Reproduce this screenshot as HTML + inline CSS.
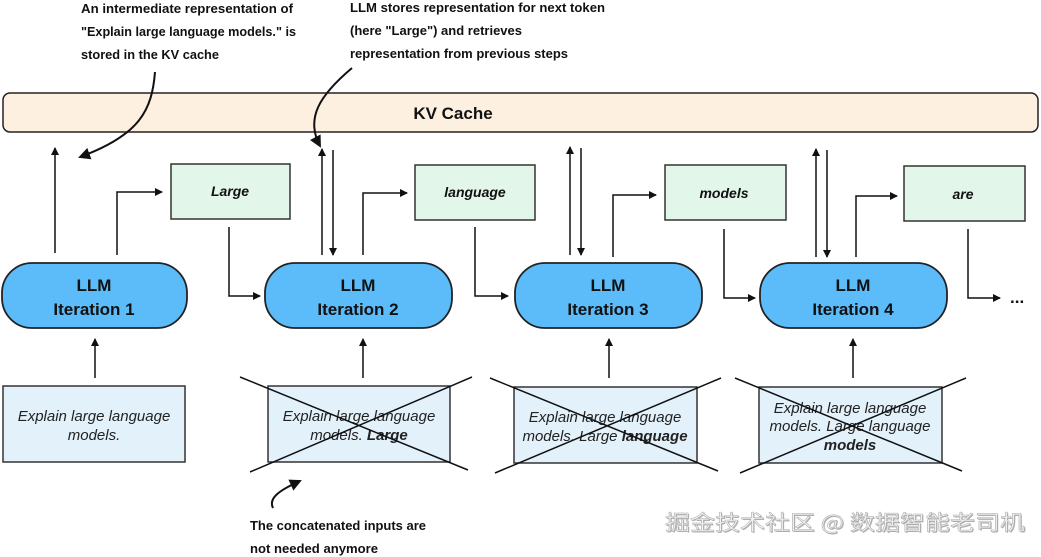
<!DOCTYPE html>
<html><head><meta charset="utf-8"><style>
html,body{margin:0;padding:0;background:#fff;}
svg{display:block;}
.ann{font-family:"Liberation Sans Narrow","Liberation Sans",sans-serif;font-weight:bold;font-size:13px;fill:#111;}
.llm{font-family:"Liberation Sans",sans-serif;font-weight:bold;font-size:17px;fill:#111;}
.tok{font-family:"Liberation Sans",sans-serif;font-weight:bold;font-style:italic;font-size:14px;fill:#111;}
.inp{font-family:"Liberation Sans",sans-serif;font-style:italic;font-size:15px;fill:#222;}
</style></head><body>
<svg width="1041" height="557" viewBox="0 0 1041 557" xmlns="http://www.w3.org/2000/svg">
<defs>
<marker id="a" markerWidth="8" markerHeight="8" refX="7" refY="4" orient="auto" markerUnits="userSpaceOnUse">
<path d="M0,0 L8,4 L0,8 z" fill="#111"/></marker>
<marker id="b" markerWidth="12" markerHeight="12" refX="10" refY="6" orient="auto" markerUnits="userSpaceOnUse">
<path d="M0,0 L12,6 L0,12 z" fill="#111"/></marker>
</defs>

<text class="ann" x="81" y="13" textLength="212" lengthAdjust="spacingAndGlyphs">An intermediate representation of</text>
<text class="ann" x="81" y="36" textLength="215" lengthAdjust="spacingAndGlyphs">"Explain large language models." is</text>
<text class="ann" x="81" y="59" textLength="138" lengthAdjust="spacingAndGlyphs">stored in the KV cache</text>
<text class="ann" x="350" y="12" textLength="255" lengthAdjust="spacingAndGlyphs">LLM stores representation for next token</text>
<text class="ann" x="350" y="35" textLength="172" lengthAdjust="spacingAndGlyphs">(here "Large") and retrieves</text>
<text class="ann" x="350" y="58" textLength="218" lengthAdjust="spacingAndGlyphs">representation from previous steps</text>

<rect x="3" y="93" width="1035" height="39" rx="7" fill="#fdf0e1" stroke="#222" stroke-width="1.5"/>
<text class="llm" x="453" y="119" text-anchor="middle">KV Cache</text>

<path d="M155,72 C152,110 140,135 80,157" fill="none" stroke="#111" stroke-width="2" marker-end="url(#b)"/>
<path d="M352,68 C320,95 305,118 320,146" fill="none" stroke="#111" stroke-width="2" marker-end="url(#b)"/>
<path d="M273,508 C268,498 280,490 300,481" fill="none" stroke="#111" stroke-width="2" marker-end="url(#b)"/>

<g stroke="#111" stroke-width="1.5" fill="none">
<path d="M55,253 V148" marker-end="url(#a)"/>
<path d="M117,255 V192 H162" marker-end="url(#a)"/>
<path d="M229,227 V296 H260" marker-end="url(#a)"/>
<path d="M322,255 V149" marker-end="url(#a)"/>
<path d="M333,150 V255" marker-end="url(#a)"/>
<path d="M363,255 V193 H407" marker-end="url(#a)"/>
<path d="M475,227 V296 H508" marker-end="url(#a)"/>
<path d="M570,255 V147" marker-end="url(#a)"/>
<path d="M581,148 V255" marker-end="url(#a)"/>
<path d="M613,257 V195 H656" marker-end="url(#a)"/>
<path d="M724,229 V298 H755" marker-end="url(#a)"/>
<path d="M816,257 V149" marker-end="url(#a)"/>
<path d="M827,150 V257" marker-end="url(#a)"/>
<path d="M856,257 V196 H897" marker-end="url(#a)"/>
<path d="M968,229 V298 H1000" marker-end="url(#a)"/>
<path d="M95,378 V339" marker-end="url(#a)"/>
<path d="M363,378 V339" marker-end="url(#a)"/>
<path d="M609,378 V339" marker-end="url(#a)"/>
<path d="M853,378 V339" marker-end="url(#a)"/>
</g>
<text class="llm" x="1010" y="303">...</text>

<g fill="#e3f6ea" stroke="#333" stroke-width="1.5">
<rect x="171" y="164" width="119" height="55"/>
<rect x="415" y="165" width="120" height="55"/>
<rect x="665" y="165" width="121" height="55"/>
<rect x="904" y="166" width="121" height="55"/>
</g>
<text class="tok" x="230" y="196" text-anchor="middle">Large</text>
<text class="tok" x="475" y="197" text-anchor="middle">language</text>
<text class="tok" x="724" y="198" text-anchor="middle">models</text>
<text class="tok" x="963" y="199" text-anchor="middle">are</text>

<g fill="#5bbcf9" stroke="#222" stroke-width="1.8">
<rect x="2" y="263" width="185" height="65" rx="30"/>
<rect x="265" y="263" width="187" height="65" rx="30"/>
<rect x="515" y="263" width="187" height="65" rx="30"/>
<rect x="760" y="263" width="187" height="65" rx="30"/>
</g>
<g class="llm" text-anchor="middle">
<text x="94" y="291">LLM</text><text x="94" y="315">Iteration 1</text>
<text x="358" y="291">LLM</text><text x="358" y="315">Iteration 2</text>
<text x="608" y="291">LLM</text><text x="608" y="315">Iteration 3</text>
<text x="853" y="291">LLM</text><text x="853" y="315">Iteration 4</text>
</g>

<g fill="#e3f1fb" stroke="#333" stroke-width="1.5">
<rect x="3" y="386" width="182" height="76"/>
<rect x="268" y="386" width="182" height="76"/>
<rect x="514" y="387" width="183" height="76"/>
<rect x="759" y="387" width="183" height="76"/>
</g>
<g class="inp" text-anchor="middle">
<text x="94" y="421">Explain large language</text>
<text x="94" y="440">models.</text>
<text x="359" y="421">Explain large language</text>
<text x="359" y="440">models. <tspan font-weight="bold">Large</tspan></text>
<text x="605" y="422">Explain large language</text>
<text x="605" y="441">models. Large <tspan font-weight="bold">language</tspan></text>
<text x="850" y="413">Explain large language</text>
<text x="850" y="431">models. Large language</text>
<text x="850" y="450" font-weight="bold">models</text>
</g>

<g stroke="#111" stroke-width="1.5">
<line x1="240" y1="377" x2="468" y2="470"/>
<line x1="250" y1="472" x2="472" y2="377"/>
<line x1="490" y1="378" x2="718" y2="471"/>
<line x1="495" y1="473" x2="721" y2="378"/>
<line x1="735" y1="378" x2="962" y2="471"/>
<line x1="740" y1="473" x2="966" y2="378"/>
</g>

<text class="ann" x="250" y="530" textLength="176" lengthAdjust="spacingAndGlyphs">The concatenated inputs are</text>
<text class="ann" x="250" y="553" textLength="128" lengthAdjust="spacingAndGlyphs">not needed anymore</text>

<text x="1026" y="531" text-anchor="end" font-family="'Noto Sans CJK SC',sans-serif" font-size="21" fill="#666" opacity="0.5" textLength="360" lengthAdjust="spacingAndGlyphs">掘金技术社区 @ 数据智能老司机</text>
<text x="1025" y="530" text-anchor="end" font-family="'Noto Sans CJK SC',sans-serif" font-size="21" fill="#f2f2f2" stroke="#aaa" stroke-width="0.5" textLength="360" lengthAdjust="spacingAndGlyphs">掘金技术社区 @ 数据智能老司机</text>
</svg>
</body></html>
